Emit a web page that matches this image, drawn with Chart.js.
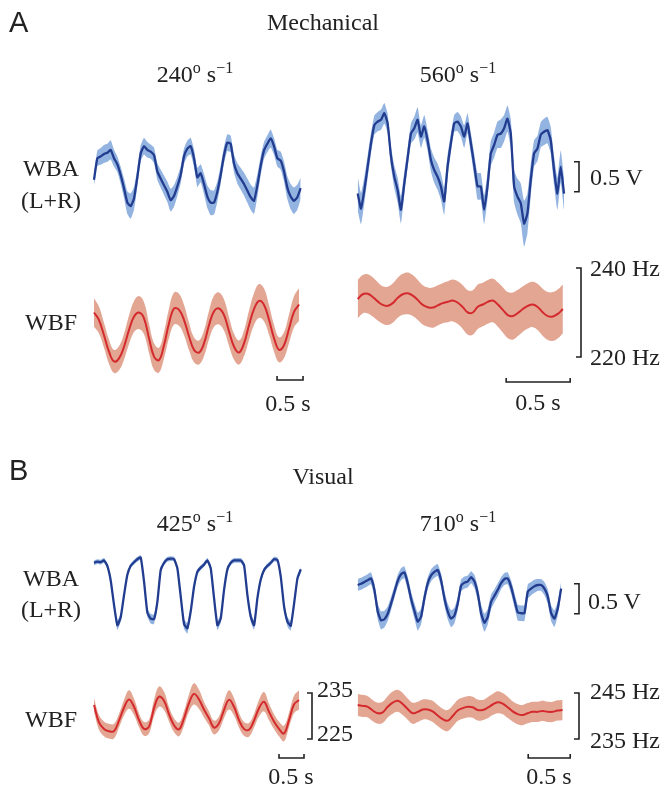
<!DOCTYPE html>
<html>
<head>
<meta charset="utf-8">
<script src="https://cdn.jsdelivr.net/npm/chart.js@4.4.1/dist/chart.umd.min.js"></script>
<style>
  body { margin: 0; background: #fff; }
  #wrap { position: relative; width: 663px; height: 788px; }
  #fig { position: absolute; left: 0; top: 0; }
  .t { position: absolute; font-family: 'Liberation Serif', 'Times New Roman', serif; font-size: 24px; color: #222; white-space: nowrap; line-height: 1; }
  .c { transform: translate(-50%, -50%); }
  .l { transform: translate(0, -50%); }
  .p { font-family: 'Liberation Sans', Arial, sans-serif; font-size: 29px; }
  sup { font-size: 16px; vertical-align: 9px; line-height: 0; }
</style>
</head>
<body>
<div id="wrap">
  <canvas id="fig" width="663" height="788"></canvas>

  <div class="t l p" style="left:9px;top:22px">A</div>
  <div class="t c" style="left:323px;top:22px">Mechanical</div>
  <div class="t c" style="left:195px;top:74px">240<sup>o</sup> s<sup>−1</sup></div>
  <div class="t c" style="left:458px;top:74px">560<sup>o</sup> s<sup>−1</sup></div>
  <div class="t c" style="left:51px;top:168px">WBA</div>
  <div class="t c" style="left:51px;top:200px">(L+R)</div>
  <div class="t c" style="left:51px;top:322px">WBF</div>
  <div class="t l" style="left:590px;top:177px">0.5 V</div>
  <div class="t l" style="left:590px;top:268px">240 Hz</div>
  <div class="t l" style="left:590px;top:357px">220 Hz</div>
  <div class="t c" style="left:288px;top:403px">0.5 s</div>
  <div class="t c" style="left:538px;top:402px">0.5 s</div>

  <div class="t l p" style="left:9px;top:470px">B</div>
  <div class="t c" style="left:323px;top:476px">Visual</div>
  <div class="t c" style="left:195px;top:523px">425<sup>o</sup> s<sup>−1</sup></div>
  <div class="t c" style="left:458px;top:523px">710<sup>o</sup> s<sup>−1</sup></div>
  <div class="t c" style="left:51px;top:578px">WBA</div>
  <div class="t c" style="left:51px;top:609px">(L+R)</div>
  <div class="t c" style="left:51px;top:719px">WBF</div>
  <div class="t l" style="left:588px;top:601px">0.5 V</div>
  <div class="t l" style="left:317px;top:689px">235</div>
  <div class="t l" style="left:317px;top:733px">225</div>
  <div class="t l" style="left:590px;top:691px">245 Hz</div>
  <div class="t l" style="left:590px;top:740px">235 Hz</div>
  <div class="t c" style="left:291px;top:776px">0.5 s</div>
  <div class="t c" style="left:549px;top:776px">0.5 s</div>
</div>

<script>
// --- datos (medias y desviaciones) ---
// A: estimulo mecanico, 240 deg/s (izq) y 560 deg/s (der)
const aL_wba = [0.67,1.03,1.06,1.10,1.12,1.17,1.03,0.93,0.75,0.53,0.29,0.23,0.36,0.71,1.11,1.23,1.17,1.14,1.08,0.81,0.69,0.58,0.47,0.33,0.40,0.56,0.75,1.06,1.19,1.23,1.03,0.71,0.78,0.60,0.39,0.29,0.29,0.47,0.75,1.08,1.29,1.27,0.94,0.78,0.69,0.60,0.49,0.38,0.32,0.57,0.90,1.16,1.27,1.36,1.23,1.03,0.99,0.81,0.54,0.39,0.32,0.38,0.53];
const aL_wba_sd = [0.10,0.13,0.14,0.15,0.15,0.16,0.14,0.13,0.14,0.16,0.19,0.21,0.19,0.15,0.13,0.14,0.13,0.12,0.13,0.14,0.15,0.16,0.17,0.19,0.18,0.16,0.14,0.13,0.13,0.14,0.15,0.16,0.15,0.17,0.19,0.21,0.20,0.17,0.15,0.14,0.14,0.14,0.15,0.17,0.18,0.19,0.20,0.21,0.22,0.19,0.16,0.14,0.14,0.15,0.14,0.14,0.15,0.17,0.19,0.21,0.22,0.21,0.18];
const aR_wba = [0.44,0.19,0.50,0.89,1.28,1.58,1.64,1.67,1.78,1.61,1.06,0.72,0.50,0.17,0.61,1.03,1.44,1.53,1.67,1.39,1.56,1.33,1.00,0.83,0.72,0.56,0.31,0.89,1.28,1.61,1.64,1.56,1.39,1.61,1.28,0.92,0.56,0.56,0.17,0.56,1.11,1.25,1.42,1.44,1.53,1.69,1.44,0.56,0.39,0.28,-0.06,0.11,0.67,1.11,1.19,1.42,1.47,1.50,1.33,0.83,0.44,0.89,0.44];
const aR_wba_sd = [0.28,0.26,0.22,0.19,0.17,0.16,0.16,0.17,0.17,0.16,0.17,0.19,0.21,0.23,0.19,0.16,0.17,0.19,0.21,0.19,0.19,0.17,0.19,0.21,0.22,0.22,0.23,0.19,0.16,0.14,0.16,0.17,0.19,0.17,0.17,0.19,0.22,0.22,0.24,0.22,0.21,0.21,0.22,0.24,0.22,0.22,0.24,0.27,0.30,0.33,0.38,0.33,0.27,0.22,0.21,0.21,0.22,0.22,0.22,0.24,0.27,0.27,0.27];
const aL_wbf = [230.0,228.3,224.9,221.2,219.0,219.7,222.3,226.1,229.1,230.0,228.7,224.2,220.1,219.3,222.7,227.6,230.9,230.6,228.3,224.6,221.6,221.0,223.1,227.2,230.3,230.9,229.4,225.7,222.3,221.0,223.1,227.2,230.8,232.6,231.7,228.3,224.2,221.6,222.7,226.4,230.2,231.8];
const aL_wbf_sd = [3.2,3.0,2.8,2.7,2.6,2.7,2.9,3.2,3.5,3.7,3.6,3.3,3.0,2.8,3.0,3.3,3.6,3.6,3.4,3.1,2.8,2.7,2.9,3.2,3.5,3.6,3.5,3.2,2.9,2.7,2.9,3.3,3.6,3.8,3.7,3.3,3.0,2.8,2.9,3.2,3.5,3.7];
const aR_wbf = [233.0,234.1,234.2,233.5,232.5,231.7,231.5,232.1,233.3,234.1,234.3,233.8,232.8,231.7,231.2,231.1,231.6,232.1,232.4,232.7,232.2,231.2,230.0,230.0,231.3,231.8,232.4,232.7,231.8,230.6,229.4,229.2,229.9,230.8,231.5,231.8,231.2,230.0,229.2,229.1,229.7,230.8];
const aR_wbf_sd = [4.3,4.3,4.4,4.4,4.3,4.2,4.3,4.4,4.5,4.6,4.7,4.6,4.5,4.4,4.4,4.5,4.5,4.5,4.6,4.7,4.8,4.9,5.0,5.0,5.0,4.9,4.9,4.9,5.0,5.1,5.2,5.3,5.2,5.1,5.1,5.1,5.2,5.3,5.4,5.5,5.5,5.5];

// B: estimulo visual, 425 deg/s (izq) y 710 deg/s (der)
const bL_wba = [1.37,1.39,1.38,1.41,1.32,1.08,0.67,0.33,0.46,0.83,1.17,1.32,1.38,1.43,1.46,1.06,0.54,0.44,0.43,0.72,1.25,1.37,1.43,1.44,1.43,1.28,0.81,0.35,0.28,0.56,0.97,1.22,1.29,1.34,1.41,1.28,0.78,0.33,0.44,0.92,1.26,1.37,1.41,1.41,1.41,1.33,0.83,0.47,0.33,0.78,1.09,1.25,1.32,1.37,1.43,1.42,1.14,0.64,0.39,0.32,0.69,1.11,1.26];
const bL_wba_sd = [0.04,0.04,0.04,0.04,0.04,0.05,0.06,0.08,0.07,0.05,0.04,0.04,0.04,0.04,0.04,0.05,0.07,0.08,0.08,0.06,0.04,0.04,0.04,0.04,0.04,0.05,0.06,0.08,0.09,0.07,0.05,0.04,0.04,0.04,0.04,0.05,0.06,0.08,0.07,0.05,0.04,0.04,0.04,0.04,0.04,0.05,0.06,0.08,0.08,0.06,0.05,0.04,0.04,0.04,0.04,0.04,0.05,0.06,0.08,0.08,0.06,0.05,0.04];
const bR_wba = [1.00,1.02,1.05,1.08,1.11,0.92,0.56,0.41,0.43,0.52,0.69,0.88,1.07,1.18,1.21,1.03,0.77,0.57,0.39,0.47,0.78,1.03,1.16,1.22,1.25,1.08,0.78,0.56,0.44,0.49,0.69,0.99,1.04,1.06,1.13,1.06,0.86,0.53,0.37,0.47,0.72,0.82,0.92,1.03,1.10,1.11,0.97,0.75,0.54,0.53,0.53,0.89,0.94,0.98,1.00,1.00,0.94,0.81,0.53,0.44,0.61,0.94];
const bR_wba_sd = [0.10,0.10,0.10,0.10,0.10,0.11,0.13,0.15,0.14,0.12,0.11,0.10,0.10,0.10,0.10,0.11,0.12,0.13,0.15,0.13,0.11,0.10,0.10,0.10,0.10,0.11,0.12,0.13,0.14,0.13,0.11,0.10,0.10,0.10,0.10,0.11,0.12,0.14,0.15,0.13,0.12,0.11,0.11,0.10,0.10,0.10,0.11,0.12,0.13,0.13,0.13,0.12,0.11,0.11,0.10,0.10,0.11,0.12,0.13,0.14,0.12,0.11];
const bL_wbf = [232.4,228.6,227.2,226.7,226.7,229.0,231.8,233.6,232.0,229.1,227.2,227.7,231.7,234.2,233.3,230.4,228.0,227.1,229.5,232.8,234.8,233.6,231.4,229.5,227.5,228.4,231.3,233.5,232.0,229.1,227.2,227.0,229.0,231.7,233.1,230.9,228.8,227.2,226.2,229.1,232.5,233.5];
const bL_wbf_sd = [1.5,1.6,1.6,1.6,1.6,1.5,1.7,2.0,1.8,1.5,1.5,1.5,1.8,2.2,2.0,1.6,1.5,1.5,1.6,1.9,2.3,2.1,1.7,1.5,1.5,1.5,1.8,2.1,1.9,1.6,1.5,1.5,1.5,1.8,2.1,1.8,1.6,1.6,1.7,1.6,1.9,2.1];
const bR_wbf = [242.4,242.2,242.0,241.2,240.6,240.8,242.0,242.9,243.3,242.6,241.5,240.6,240.9,241.4,241.4,241.0,240.1,239.3,239.0,240.0,241.2,241.7,242.0,241.9,241.3,241.3,241.8,242.5,243.0,242.7,241.9,241.0,240.4,240.2,240.6,240.9,240.9,241.1,240.9,240.9,241.2,241.3];
const bR_wbf_sd = [2.4,2.4,2.3,2.3,2.3,2.3,2.3,2.4,2.4,2.4,2.3,2.3,2.2,2.2,2.2,2.3,2.3,2.3,2.3,2.3,2.3,2.3,2.3,2.3,2.3,2.2,2.3,2.3,2.4,2.3,2.3,2.2,2.2,2.2,2.2,2.2,2.2,2.2,2.2,2.2,2.2,2.2];

// intervalo de muestreo de cada serie (s)
const dt_aL_wba = 0.0641, dt_aL_wbf = 0.0962;
const dt_aR_wba = 0.0260, dt_aR_wbf = 0.0391;
const dt_bL_wba = 0.0667, dt_bL_wbf = 0.1000;
const dt_bR_wba = 0.0397, dt_bR_wbf = 0.0595;

const W = 663, H = 788;
const BLUE = '#223d8f', BLUE_BAND = 'rgba(128,166,220,0.85)';
const RED = '#d42a2e', RED_BAND = 'rgba(222,150,128,0.85)';

// ejes ocultos: cada panel se ubica con el min/max de su escala
function x_scale(p0, px_per_s) {
  const min = -p0 / px_per_s;
  return { type: 'linear', display: false, min: min, max: min + W / px_per_s };
}
function y_scale(v0, q0, px_per_unit) {
  const max = v0 + q0 / px_per_unit;
  return { type: 'linear', display: false, min: max - H / px_per_unit, max: max };
}

const panels = [
  { mean: aL_wba, sd: aL_wba_sd, dt: dt_aL_wba, x: 'xAL', y: 'yAWBA', wba: true },
  { mean: aR_wba, sd: aR_wba_sd, dt: dt_aR_wba, x: 'xAR', y: 'yAWBA', wba: true },
  { mean: aL_wbf, sd: aL_wbf_sd, dt: dt_aL_wbf, x: 'xAL', y: 'yAWBF', wba: false },
  { mean: aR_wbf, sd: aR_wbf_sd, dt: dt_aR_wbf, x: 'xAR', y: 'yAWBF', wba: false },
  { mean: bL_wba, sd: bL_wba_sd, dt: dt_bL_wba, x: 'xBL', y: 'yBWBA', wba: true },
  { mean: bR_wba, sd: bR_wba_sd, dt: dt_bR_wba, x: 'xBR', y: 'yBWBA', wba: true },
  { mean: bL_wbf, sd: bL_wbf_sd, dt: dt_bL_wbf, x: 'xBL', y: 'yBWBFL', wba: false },
  { mean: bR_wbf, sd: bR_wbf_sd, dt: dt_bR_wbf, x: 'xBR', y: 'yBWBFR', wba: false }
];

const datasets = [];
panels.forEach(p => {
  const upper = p.mean.map((v, i) => ({ x: i * p.dt, y: v + p.sd[i] }));
  const lower = p.mean.map((v, i) => ({ x: i * p.dt, y: v - p.sd[i] }));
  const mean = p.mean.map((v, i) => ({ x: i * p.dt, y: v }));
  const tension = p.wba ? 0.15 : 0.4;
  const common = { xAxisID: p.x, yAxisID: p.y, pointRadius: 0, tension: tension, clip: false };
  datasets.push(Object.assign({ data: upper, borderWidth: 0, borderColor: 'rgba(0,0,0,0)',
    backgroundColor: p.wba ? BLUE_BAND : RED_BAND, fill: '+1', order: 2 }, common));
  datasets.push(Object.assign({ data: lower, borderWidth: 0, borderColor: 'rgba(0,0,0,0)', fill: false, order: 2 }, common));
  datasets.push(Object.assign({ data: mean, borderWidth: p.wba ? 2.3 : 2, borderColor: p.wba ? BLUE : RED,
    fill: false, order: 1 }, common));
});

// barras de escala (valores en unidades de cada eje, posiciones en px)
const v_brackets = [
  { axis: 'yAWBA', from: 0.47, to: 0.97, px: 579 },
  { axis: 'yAWBF', from: 220, to: 240, px: 581 },
  { axis: 'yBWBA', from: 0.52, to: 1.02, px: 579 },
  { axis: 'yBWBFL', from: 225, to: 235, px: 312 },
  { axis: 'yBWBFR', from: 235, to: 245, px: 579 }
];
const h_bars = [
  { axis: 'xAL', from: 3.52, to: 4.02, py: 380 },
  { axis: 'xAR', from: 1.16, to: 1.66, py: 382 },
  { axis: 'xBL', from: 3.70, to: 4.20, py: 758 },
  { axis: 'xBR', from: 2.03, to: 2.53, py: 758 }
];

const scale_bars = {
  id: 'scale_bars',
  afterDatasetsDraw(chart) {
    const ctx = chart.ctx;
    ctx.save();
    ctx.strokeStyle = '#222';
    ctx.lineWidth = 1.6;
    v_brackets.forEach(b => {
      const s = chart.scales[b.axis];
      const y1 = s.getPixelForValue(b.to), y2 = s.getPixelForValue(b.from);
      ctx.beginPath();
      ctx.moveTo(b.px - 5, y1); ctx.lineTo(b.px, y1);
      ctx.lineTo(b.px, y2); ctx.lineTo(b.px - 5, y2);
      ctx.stroke();
    });
    h_bars.forEach(b => {
      const s = chart.scales[b.axis];
      const x1 = s.getPixelForValue(b.from), x2 = s.getPixelForValue(b.to);
      ctx.beginPath();
      ctx.moveTo(x1, b.py - 4); ctx.lineTo(x1, b.py);
      ctx.lineTo(x2, b.py); ctx.lineTo(x2, b.py - 4);
      ctx.stroke();
    });
    ctx.restore();
  }
};

new Chart(document.getElementById('fig').getContext('2d'), {
  type: 'line',
  data: { datasets: datasets },
  options: {
    responsive: false,
    animation: false,
    events: [],
    layout: { padding: 0 },
    plugins: { legend: { display: false }, tooltip: { enabled: false } },
    scales: {
      xAL: x_scale(94, 52),
      xAR: x_scale(357.7, 128),
      xBL: x_scale(94, 50),
      xBR: x_scale(357.7, 84),
      yAWBA: y_scale(0, 220, 60),
      yAWBF: y_scale(240, 268, 4.45),
      yBWBA: y_scale(0, 645, 60),
      yBWBFL: y_scale(235, 693, 4.6),
      yBWBFR: y_scale(245, 693, 4.6)
    }
  },
  plugins: [scale_bars]
});
</script>
</body>
</html>
